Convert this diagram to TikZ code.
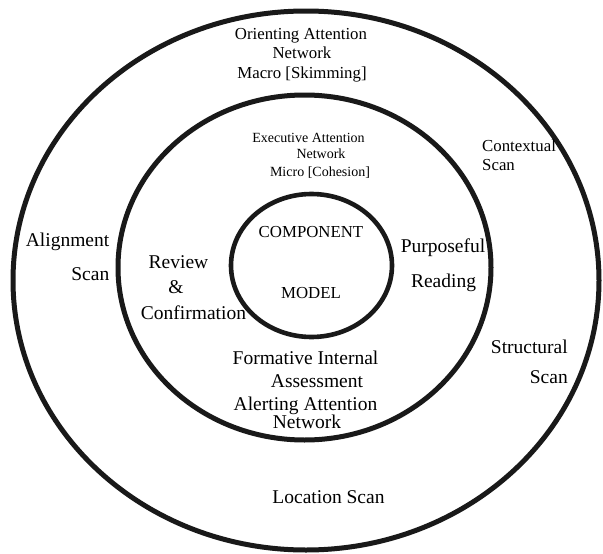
\documentclass[tikz,border=0pt]{standalone}
\usepackage{fontspec}
\setmainfont{Liberation Serif}
\begin{document}
\begin{tikzpicture}[x=1pt,y=-1pt,
  ring/.style={draw=black!90, line width=5pt},
  big/.style={inner sep=0pt, font=\fontsize{19.5}{23}\selectfont},
  mid/.style={inner sep=0pt, font=\fontsize{16.8}{20}\selectfont},
  small/.style={inner sep=0pt, font=\fontsize{14}{16}\selectfont}]
\useasboundingbox (0,0) rectangle (603,554);
\draw[ring] (306,280.5) ellipse [x radius=293, y radius=269.5];
\draw[ring] (304.5,267.5) ellipse [x radius=186.5, y radius=172.5];
\draw[ring, line width=4.6pt] (311.5,265.5) ellipse [x radius=80.5, y radius=71.5];
% outer ring texts
\node[mid, anchor=base] (o1) at (301,39.8) {Orienting Attention};
\node[mid, anchor=base] (o2) at (302,58.8) {Network};
\node[mid, anchor=base] (o3) at (302,78.5) {Macro [Skimming]};
\node[mid, anchor=base west] (c1) at (482,151.5) {Contextual};
\node[mid, anchor=base west] (c2) at (482,170.5) {Scan};
\node[big, anchor=base east] (a1) at (109.5,246) {Alignment};
\node[big, anchor=base east] (a2) at (109.5,280.5) {Scan};
\node[big, anchor=base east] (s1) at (568,353.5) {Structural};
\node[big, anchor=base east] (s2) at (568,383.5) {Scan};
\node[big, anchor=base] (l1) at (328.5,503.5) {Location Scan};
% middle ring texts
\node[small, anchor=base] (e1) at (308.5,142.5) {Executive Attention};
\node[small, anchor=base] (e2) at (321,158.5) {Network};
\node[small, anchor=base] (e3) at (320,176) {Micro [Cohesion]};
\node[big, anchor=base] (r1) at (178.5,268.5) {Review};
\node[big, anchor=base] (r2) at (176,293) {\&};
\node[big, anchor=base] (r3) at (193.5,319.5) {Confirmation};
\node[big, anchor=base] (p1) at (443,252.5) {Purposeful};
\node[big, anchor=base] (p2) at (443.5,287.5) {Reading};
\node[big, anchor=base] (f1) at (305.5,364.5) {Formative Internal};
\node[big, anchor=base] (f2) at (317,387.5) {Assessment};
\node[big, anchor=base] (f3) at (305.5,410.5) {Alerting Attention};
\node[big, anchor=base] (f4) at (307,428.5) {Network};
% inner texts
\node[mid, anchor=base] (m1) at (311,237.5) {COMPONENT};
\node[mid, anchor=base] (m2) at (311,298.5) {MODEL};
\end{tikzpicture}
\end{document}
